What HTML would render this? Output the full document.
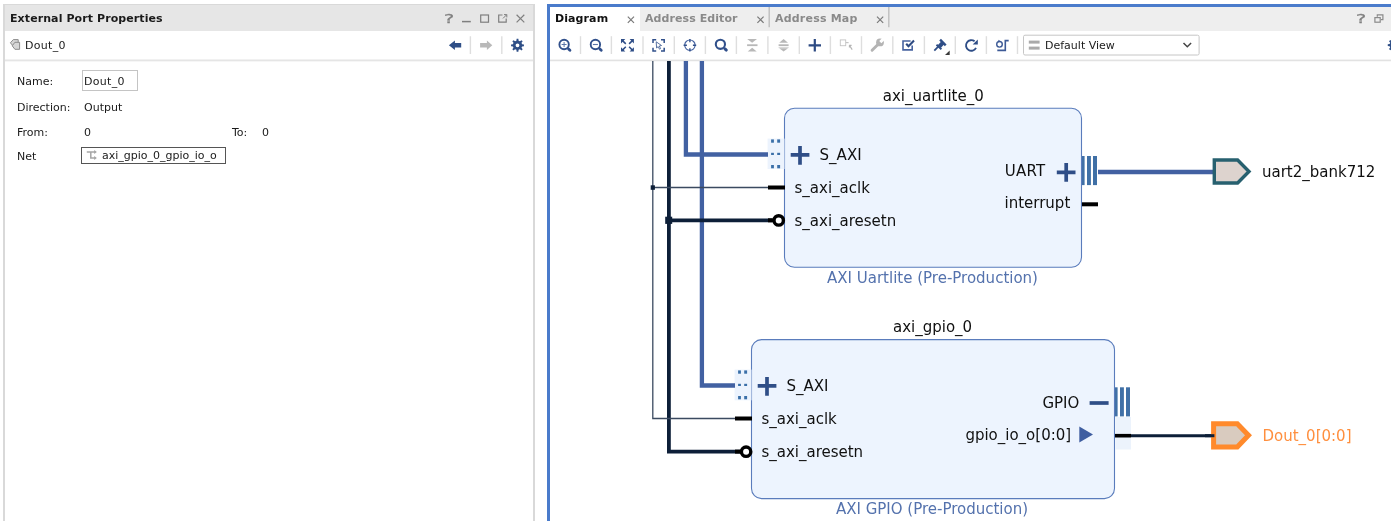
<!DOCTYPE html>
<html>
<head>
<meta charset="utf-8">
<title>Block Design</title>
<style>
html,body{margin:0;padding:0;}
body{width:1391px;height:521px;overflow:hidden;background:#fff;position:relative;
  font-family:"DejaVu Sans","Liberation Sans",sans-serif;font-size:11px;color:#1a1a1a;}
#root{position:absolute;left:0;top:0;width:1391px;height:521px;will-change:transform;}
.abs{position:absolute;}
.t{position:absolute;white-space:nowrap;line-height:14px;}
#lp{position:absolute;left:3px;top:4px;width:528px;height:530px;border:2px solid #d9d9d9;border-bottom:none;background:#fff;}
#lph{position:absolute;left:5px;top:5px;width:528px;height:26px;background:#e6e6e6;}
#rp{position:absolute;left:547px;top:4px;width:900px;height:530px;border:3px solid #4a7bcb;background:#fff;}
#tabs{position:absolute;left:550px;top:7px;width:841px;height:24px;background:#eeeeee;}
#tab1{position:absolute;left:550px;top:7px;width:90px;height:24px;background:#fff;}
.sep{position:absolute;width:1px;background:#d8d8d8;}
</style>
</head>
<body>
<div id="root">
<!-- left panel -->
<div id="lp"></div>
<div id="lph"></div>
<div class="t" style="left:10px;top:12px;font-weight:bold;font-size:11px;letter-spacing:0.09px;">External Port Properties</div>
<div class="t" style="left:25px;top:39px;letter-spacing:0.3px;">Dout_0</div>
<div class="abs" style="left:5px;top:59px;width:528px;height:1px;background:#f1f1f1;"></div><div class="abs" style="left:5px;top:60px;width:528px;height:1px;background:#e5e5e5;"></div><div class="abs" style="left:5px;top:61px;width:528px;height:1px;background:#f6f6f6;"></div>
<div class="t" style="left:17px;top:75px;">Name:</div>
<div class="abs" style="left:82px;top:70px;width:54px;height:19px;border:1px solid #c4c4c4;background:#fff;"></div>
<div class="t" style="left:84px;top:75px;letter-spacing:0.3px;">Dout_0</div>
<div class="t" style="left:17px;top:101px;">Direction:</div>
<div class="t" style="left:84px;top:101px;">Output</div>
<div class="t" style="left:17px;top:126px;">From:</div>
<div class="t" style="left:84px;top:126px;">0</div>
<div class="t" style="left:232px;top:126px;">To:</div>
<div class="t" style="left:262px;top:126px;">0</div>
<div class="t" style="left:17px;top:150px;">Net</div>
<div class="abs" style="left:81px;top:147px;width:143px;height:15px;border:1px solid #555;background:#fff;"></div>
<div class="t" style="left:102px;top:149px;">axi_gpio_0_gpio_io_o</div>

<!-- right panel -->
<div id="rp"></div>
<div id="tabs"></div>
<div id="tab1"></div>
<div class="t" style="left:555px;top:12px;font-weight:bold;color:#111;letter-spacing:0.1px;">Diagram</div>
<div class="t" style="left:645px;top:12px;font-weight:bold;color:#8a8a8a;letter-spacing:0.08px;">Address Editor</div>
<div class="t" style="left:775px;top:12px;font-weight:bold;color:#8a8a8a;letter-spacing:0.2px;">Address Map</div>
<div class="t" style="left:1356px;top:12px;font-size:12px;color:#808080;-webkit-text-stroke:0.3px #808080;transform:scaleX(1.6);transform-origin:0 0;">?</div>
<div class="t" style="left:444px;top:12px;font-size:12px;color:#808080;-webkit-text-stroke:0.3px #808080;transform:scaleX(1.6);transform-origin:0 0;">?</div>
<div class="abs" style="left:550px;top:59px;width:841px;height:1px;background:#f3f3f3;"></div><div class="abs" style="left:550px;top:60px;width:841px;height:1px;background:#e2e2e2;"></div><div class="abs" style="left:550px;top:61px;width:841px;height:1px;background:#f8f8f8;"></div>

<svg class="abs" style="left:0;top:0;" width="1391" height="521" viewBox="0 0 1391 521" font-family="'DejaVu Sans','Liberation Sans',sans-serif" font-size="15">
<defs><clipPath id="cv"><rect x="550" y="61" width="841" height="460"/></clipPath></defs>
<g clip-path="url(#cv)">
<!-- bus bars -->
<g fill="#4070a6">
<rect x="1081.5" y="156" width="3.1" height="29.1"/><rect x="1087" y="156" width="3.9" height="29.1"/><rect x="1093" y="156" width="4" height="29.1"/>
<rect x="1114.5" y="387.3" width="3.1" height="29.1"/><rect x="1120" y="387.3" width="3.9" height="29.1"/><rect x="1126" y="387.3" width="4" height="29.1"/>
</g>
<!-- blocks -->
<rect x="784.5" y="108.2" width="297" height="159" rx="10" ry="10" fill="#edf4fe" stroke="#5a7cbc" stroke-width="1.1"/>
<rect x="751.5" y="339.6" width="363" height="159" rx="10" ry="10" fill="#edf4fe" stroke="#5a7cbc" stroke-width="1.1"/>
<!-- port marker backgrounds -->
<rect x="767.6" y="138.6" width="16.9" height="30.4" fill="#ecf3fd"/>
<rect x="734.6" y="369.6" width="16.9" height="30.7" fill="#ecf3fd"/>
<rect x="1115.5" y="417" width="15.5" height="32.5" fill="#ecf3fc"/>
<!-- wires -->
<g fill="none" stroke="#4261a2" stroke-width="4.3" stroke-linejoin="miter">
<path d="M685.9,55 V154.5 H768"/>
<path d="M701.9,55 V385.5 H735"/>
<path d="M1098,172 H1214"/>
</g>
<g fill="none" stroke="#0d1f38" stroke-width="3.8" stroke-linejoin="miter">
<path d="M668.9,55 V451.6 H741"/>
<path d="M668.9,220.3 H772"/>
<path d="M1131,435.7 H1216" stroke-width="3"/>
</g>
<g fill="none" stroke="#3b4a60" stroke-width="1.3">
<path d="M652.8,55 V418.5 H736"/>
<path d="M652.8,187.5 H768"/>
</g>
<rect x="650.7" y="185.3" width="4.2" height="4.5" fill="#0d1f38"/>
<rect x="665.2" y="216.7" width="7" height="7.2" fill="#0d1f38"/>
<!-- pin stubs -->
<g stroke="#000" stroke-width="4" fill="none">
<path d="M768,187.5 H785"/>
<path d="M735,418.5 H752"/>
<path d="M1082,204.3 H1098"/>
<path d="M1115,435.7 H1131" stroke-width="3.6"/>
</g>
<path d="M768,220.3 H774" stroke="#000" stroke-width="4"/>
<circle cx="778.7" cy="220.4" r="4.7" fill="#fff" stroke="#000" stroke-width="3.4"/>
<path d="M735,451.6 H741" stroke="#000" stroke-width="4"/>
<circle cx="746.1" cy="451.7" r="4.7" fill="#fff" stroke="#000" stroke-width="3.4"/>
<!-- dots -->
<g fill="#3a6fa8">
<rect x="771.1" y="139.4" width="2.8" height="3.3"/><rect x="777.2" y="139.4" width="2.9" height="3.3"/>
<rect x="771.1" y="152.8" width="2.8" height="2.2"/><rect x="777.2" y="152.8" width="2.9" height="2.2"/>
<rect x="771.1" y="165" width="2.8" height="3.3"/><rect x="777.2" y="165" width="2.9" height="3.3"/>
<rect x="738.1" y="370.4" width="2.8" height="3.3"/><rect x="744.2" y="370.4" width="2.9" height="3.3"/>
<rect x="738.1" y="383.8" width="2.8" height="2.2"/><rect x="744.2" y="383.8" width="2.9" height="2.2"/>
<rect x="738.1" y="396" width="2.8" height="3.3"/><rect x="744.2" y="396" width="2.9" height="3.3"/>
</g>
<!-- plus / minus -->
<g stroke="#2f4e87" stroke-width="3.7" fill="none">
<path d="M790.7,154.8 H809.4 M800,146 V164.8"/>
<path d="M757.7,385.8 H776.4 M767,377 V395.8"/>
<path d="M1056.8,172.3 H1075.5 M1066.2,163 V181.8"/>
<path d="M1089.6,403 H1108.6"/>
</g>
<path d="M1079.3,426.4 L1093,434.5 L1079.3,442.6 Z" fill="#3f5ea0"/>
<!-- external ports -->
<path d="M1214.3,160 H1237.6 L1249,171.5 L1237.6,183 H1214.3 Z" fill="#ddd3ce" stroke="#27606f" stroke-width="3.4" stroke-linejoin="miter"/>
<path d="M1213.6,423.7 H1237.3 L1248.5,435.3 L1237.3,446.9 H1213.6 Z" fill="#d9cbbf" stroke="#ff8a2c" stroke-width="5" stroke-linejoin="miter"/>
<path d="M1205,435.7 H1214.4" stroke="#0d1f38" stroke-width="3" fill="none"/>
<!-- text -->
<g fill="#101010">
<text x="933.3" y="100.5" text-anchor="middle">axi_uartlite_0</text>
<text x="819.6" y="160.2">S_AXI</text>
<text x="794.5" y="192.5">s_axi_aclk</text>
<text x="794.5" y="226">s_axi_aresetn</text>
<text x="1004.8" y="176" letter-spacing="0.2">UART</text>
<text x="1004.5" y="207.5">interrupt</text>
<text x="1262" y="176.5">uart2_bank712</text>
<text x="932.6" y="331.8" text-anchor="middle">axi_gpio_0</text>
<text x="786.5" y="391">S_AXI</text>
<text x="761.4" y="423.5">s_axi_aclk</text>
<text x="761.4" y="457">s_axi_aresetn</text>
<text x="1042.4" y="408">GPIO</text>
<text x="965.4" y="440.2">gpio_io_o[0:0]</text>
</g>
<text x="1262.5" y="441" fill="#ff8f3e">Dout_0[0:0]</text>
<g fill="#5472ad">
<text x="932.5" y="282.8" text-anchor="middle">AXI Uartlite (Pre-Production)</text>
<text x="932" y="514" text-anchor="middle">AXI GPIO (Pre-Production)</text>
</g>
</g>

<!-- toolbar -->
<g id="tb">
<g stroke="#dedede" stroke-width="1.4">
<path d="M580.5,36.2 V54"/><path d="M611.4,36.2 V54"/><path d="M643,36.2 V54"/><path d="M674.3,36.2 V54"/><path d="M705.4,36.2 V54"/><path d="M736.4,36.2 V54"/><path d="M767.9,36.2 V54"/><path d="M799.3,36.2 V54"/><path d="M830.4,36.2 V54"/><path d="M861.5,36.2 V54"/><path d="M892.8,36.2 V54"/><path d="M924.4,36.2 V54"/><path d="M955.3,36.2 V54"/><path d="M986.4,36.2 V54"/><path d="M1017.5,36.2 V54"/>
</g>
<g fill="none" stroke="#31508b" stroke-linecap="round">
<!-- zoom in -->
<circle cx="564.1" cy="44.5" r="4.7" stroke-width="1.9"/>
<path d="M568.6,49 L569.9,50.2" stroke-width="2.9"/>
<path d="M561.6,44.5 H566.6 M564.1,42 V47" stroke-width="1" stroke-linecap="butt" stroke="#5a74a8"/>
<!-- zoom out -->
<circle cx="595.4" cy="44.5" r="4.7" stroke-width="1.9"/>
<path d="M599.9,49 L601.2,50.2" stroke-width="2.9"/>
<path d="M592.9,44.5 H597.9" stroke-width="1.1" stroke-linecap="butt" stroke="#5a74a8"/>
<!-- search -->
<circle cx="720.4" cy="44.3" r="4.6" stroke-width="2.1"/>
<path d="M725,48.9 L726.3,50.1" stroke-width="3"/>
</g>
<!-- fit -->
<g fill="#2f4e87" stroke="#2f4e87">
<path d="M621,39.1 h4.3 l-4.3,4.3 z M633.9,39.1 v4.3 l-4.3,-4.3 z M621,51.6 v-4.3 l4.3,4.3 z M633.9,51.6 h-4.3 l4.3,-4.3 z" stroke="none"/>
<path d="M622.5,40.6 L625.8,43.9 M632.4,40.6 L629.1,43.9 M622.5,50.1 L625.8,46.8 M632.4,50.1 L629.1,46.8" fill="none" stroke-width="1.5"/>
</g>
<!-- select area -->
<g fill="none" stroke="#31508b" stroke-width="1.5">
<path d="M653,43 V39.8 H656.2 M661,39.8 H664.2 V43 M664.2,47.8 V51 H661 M656.2,51 H653 V47.8"/>
<path d="M656.2,41.8 L661.5,45.5 L659.3,46 L660.6,48.6 L659.5,49.2 L658.2,46.6 L656.6,48 Z" stroke-width="0.8"/>
</g>
<!-- crosshair -->
<g fill="none" stroke="#31508b">
<circle cx="689.9" cy="45.2" r="5.2" stroke-width="1.15" stroke="#4562a0"/>
<path d="M689.9,38.9 V42.2 M689.9,48.2 V51.5 M683.6,45.2 H686.9 M692.9,45.2 H696.2" stroke-width="1.4"/>
</g>
<!-- collapse / expand (disabled) -->
<g fill="#b8b8b8">
<path d="M747.2,39.1 H757 L752.1,42.8 Z"/><rect x="747.1" y="44.3" width="10.4" height="1.8"/><path d="M747.7,51.4 H756.7 L752.2,47.8 Z"/>
<path d="M779.2,42.7 H788 L783.6,39 Z"/><rect x="778.6" y="44.3" width="10" height="1.8"/><rect x="778.6" y="47.2" width="10" height="0.9" fill="#d0d0d0"/><path d="M779.2,48.2 H788 L783.6,51.5 Z"/>
</g>
<!-- plus -->
<path d="M808.6,45.3 H821 M814.8,39 V51.4" stroke="#2d4a82" stroke-width="2.2" fill="none"/>
<!-- add module disabled -->
<g fill="none" stroke="#c4c4c4" stroke-width="0.9">
<rect x="840.3" y="39.9" width="5.4" height="5.8"/>
<path d="M845.8,42.6 H848.6" stroke-width="1.2"/>
<path d="M849.2,45.4 H851.6 M849.4,45.2 V47.6 M849.6,45.6 L852.2,49.6" stroke="#b4b4b4" stroke-width="1.1"/>
</g>
<!-- wrench disabled -->
<g>
<path d="M872.1,50.2 L879.2,43.2" stroke="#b4b4b4" stroke-width="2.9" stroke-linecap="round" fill="none"/>
<circle cx="880" cy="42.4" r="3.9" fill="#b4b4b4"/>
<path d="M880.3,42.1 L884.8,37.6" stroke="#fff" stroke-width="3" fill="none"/>
</g>
<!-- validate -->
<g fill="none">
<path d="M912.2,45.6 V49.9 H903 V41 H910.6" stroke="#4763a0" stroke-width="1.6"/>
<path d="M906.2,43.8 L908.5,46.3 L914,40.6" stroke="#2d4a82" stroke-width="2.1"/>
</g>
<!-- pin -->
<g fill="none" stroke="#2f4e87">
<path d="M934.3,50.6 L939.2,45.7" stroke-width="1.8"/>
<path d="M936.5,44.7 L941.4,49.2" stroke-width="1.9"/>
<path d="M939.2,46.6 L943,42.6" stroke-width="4.2"/>
<path d="M940.1,39.7 L945.7,45.3" stroke-width="2.4"/>
</g>
<path d="M949.7,50.4 V55 H945 Z" fill="#3a3a3a"/>
<!-- refresh -->
<g fill="none" stroke="#2f4e87" stroke-width="1.9">
<path d="M976,47.9 A5.3,5.3 0 1 1 974.6,41.3"/>
<path d="M977.8,39.6 V44.6 H972.7 Z" fill="#2f4e87" stroke="none"/>
</g>
<!-- route -->
<g fill="none" stroke="#3d5a96" stroke-width="1.4">
<circle cx="999.5" cy="44.3" r="2.8"/>
<path d="M1008.7,40.6 H1005.3 V50.4 H997.3" stroke-width="1.6"/>
<path d="M998.3,39.8 L1000.6,41.3 L998.6,42.6 Z" fill="#3d5a96" stroke="none"/>
</g>
<!-- dropdown -->
<rect x="1023.5" y="35.2" width="175.6" height="19.8" rx="1.5" fill="#fff" stroke="#c6c6c6" stroke-width="1"/>
<rect x="1028.8" y="40.6" width="10.8" height="3" fill="#aaa"/><rect x="1028.8" y="46.6" width="10.8" height="3" fill="#aaa"/>
<path d="M1183.5,43 L1187.3,46.8 L1191.1,43" fill="none" stroke="#444" stroke-width="1.5"/>
<!-- gear sliver -->
<path d="M1393.33,38.66 L1395.07,38.66 L1395.30,40.53 L1396.66,41.09 L1398.14,39.93 L1399.37,41.16 L1398.21,42.64 L1398.77,44.00 L1400.64,44.23 L1400.64,45.97 L1398.77,46.20 L1398.21,47.56 L1399.37,49.04 L1398.14,50.27 L1396.66,49.11 L1395.30,49.67 L1395.07,51.54 L1393.33,51.54 L1393.10,49.67 L1391.74,49.11 L1390.26,50.27 L1389.03,49.04 L1390.19,47.56 L1389.63,46.20 L1387.76,45.97 L1387.76,44.23 L1389.63,44.00 L1390.19,42.64 L1389.03,41.16 L1390.26,39.93 L1391.74,41.09 L1393.10,40.53 Z M1392.30,45.10 a1.90,1.90 0 1 0 3.80,0 a1.90,1.90 0 1 0 -3.80,0 Z" fill="#2f4f87" fill-rule="evenodd"/>
<!-- tab close x -->
<g stroke="#7a7a7a" stroke-width="1.2" fill="none">
<path d="M627.8,16.6 L634,22.8 M634,16.6 L627.8,22.8"/>
<path d="M757.4,16.6 L763.6,22.8 M763.6,16.6 L757.4,22.8"/>
<path d="M877,16.6 L883.2,22.8 M883.2,16.6 L877,22.8"/>
</g>
<path d="M769.2,7 V27.2 M888.8,7 V27.2" stroke="#bebebe" stroke-width="1.4"/>
<!-- restore icon -->
<g fill="none" stroke="#8a8a8a" stroke-width="1.2">
<path d="M1377.3,16.8 V14.9 H1382.9 V19.7 H1381"/>
<rect x="1374.9" y="17.6" width="5.3" height="4.6"/>
</g>
</g>

<!-- left panel icons -->
<g id="lpi">
<g fill="none" stroke="#7f7f7f" stroke-width="1.2">
<path d="M462,21.6 H470.8" stroke-width="1.5"/>
<rect x="480.7" y="15" width="7.8" height="7.2"/>
<path d="M502.5,15 H498.7 V22.2 H506.2 V18.6"/>
<path d="M503,18.4 L506.6,14.8 M504,14.6 H506.8 V17.4" stroke-width="1"/>
<path d="M516.6,14.8 L524.3,22.4 M524.3,14.8 L516.6,22.4"/>
</g>
<path d="M448.9,45.3 L454.9,40.4 V42.9 H461.2 V47.6 H454.9 V50 Z" fill="#2f4f87"/>
<path d="M492.3,45.3 L486.9,40.4 V42.9 H480.1 V47.6 H486.9 V50 Z" fill="#b9b9b9"/>
<path d="M470.4,36.2 V54 M501.8,36.2 V54" stroke="#dedede" stroke-width="1.4"/>
<path d="M516.63,38.86 L518.37,38.86 L518.60,40.73 L519.96,41.29 L521.44,40.13 L522.67,41.36 L521.51,42.84 L522.07,44.20 L523.94,44.43 L523.94,46.17 L522.07,46.40 L521.51,47.76 L522.67,49.24 L521.44,50.47 L519.96,49.31 L518.60,49.87 L518.37,51.74 L516.63,51.74 L516.40,49.87 L515.04,49.31 L513.56,50.47 L512.33,49.24 L513.49,47.76 L512.93,46.40 L511.06,46.17 L511.06,44.43 L512.93,44.20 L513.49,42.84 L512.33,41.36 L513.56,40.13 L515.04,41.29 L516.40,40.73 Z M515.60,45.30 a1.90,1.90 0 1 0 3.80,0 a1.90,1.90 0 1 0 -3.80,0 Z" fill="#2f4f87" fill-rule="evenodd"/>
<!-- port icon -->
<g fill="#d6d6d6" stroke="#8c8c8c" stroke-width="1">
<path d="M18.2,39.6 H13.3 L10.4,42.8 L13.3,46.2 H18.2 Z"/>
<path d="M19.6,42.3 H14.9 L12.2,45.8 L14.9,49.3 H19.6 Z"/>
</g>
<!-- net icon -->
<g fill="none" stroke="#a6a6a6" stroke-width="1.5">
<path d="M86.8,152 H95 M90.8,152 V157.9 H95"/>
<path d="M94.2,150 L96.9,152 L94.2,154 Z M94.2,155.9 L96.9,157.9 L94.2,159.9 Z" fill="#a6a6a6" stroke="none"/>
</g></g>
</svg>
<div class="t" style="left:1045px;top:39px;font-size:11px;">Default View</div>
</div>
</body>
</html>
